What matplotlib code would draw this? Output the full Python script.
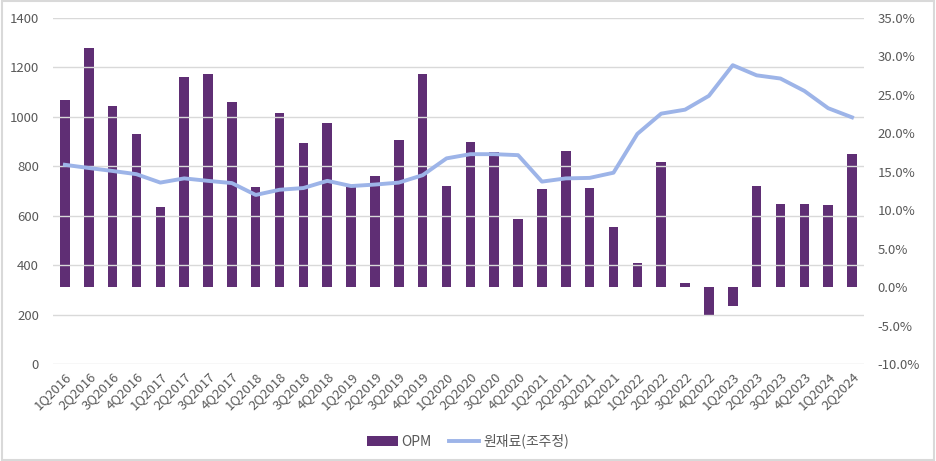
import matplotlib.pyplot as plt
from matplotlib.patches import Rectangle
from matplotlib.ticker import FuncFormatter

plt.rcParams['font.family'] = ['Noto Sans CJK KR', 'DejaVu Sans']

# quarters 1Q2016 ~ 2Q2024
quarters = []
for yr in range(2016, 2025):
    for q in range(1, 5):
        quarters.append(f"{q}Q{yr}")
quarters = quarters[:34]

# OPM (%) - right axis
opm = [24.3, 31.1, 23.6, 19.9, 10.4, 27.3, 27.7, 24.1, 13.0, 22.6, 18.8, 21.4,
       13.0, 14.5, 19.1, 27.7, 13.2, 18.9, 17.6, 8.9, 12.7, 17.7, 12.9, 7.8,
       3.1, 16.3, 0.5, -3.8, -2.4, 13.1, 10.8, 10.8, 10.7, 17.3]

# 원재료(조주정) - left axis
raw = [806, 793, 781, 768, 734, 751, 741, 732, 684, 705, 712, 741,
       720, 726, 734, 764, 832, 849, 849, 845, 738, 751, 753, 774,
       931, 1013, 1029, 1085, 1209, 1168, 1155, 1105, 1035, 998]

bar_color = '#5F2E74'
line_color = '#9DB4E8'
text_color = '#595959'

fig = plt.figure(figsize=(9.36, 4.61), dpi=100)
ax = fig.add_axes([0.0566, 0.2104, 0.8664, 0.7506])
ax2 = ax.twinx()

x = list(range(len(quarters)))
ax2.bar(x, opm, width=0.4, color=bar_color, label='OPM')
ax.plot(x, raw, color=line_color, linewidth=2.8, label='원재료(조주정)')

ax.set_zorder(ax2.zorder + 1)
ax.patch.set_visible(False)

ax.set_xlim(-0.5, len(quarters) - 0.5)
ax.set_ylim(0, 1400)
ax.set_yticks(range(0, 1401, 200))
ax2.set_ylim(-10, 35)
ax2.set_yticks(range(-10, 36, 5))
ax2.yaxis.set_major_formatter(FuncFormatter(lambda v, p: f"{v:.1f}%"))

ax.grid(axis='y', color='#D9D9D9', linewidth=1)
ax.set_axisbelow(True)
ax2.grid(False)

for a in (ax, ax2):
    for s in a.spines.values():
        s.set_visible(False)
    a.tick_params(length=0, colors=text_color, labelsize=9.5)

ax.set_xticks(x)
ax.set_xticklabels(quarters, rotation=45, ha='right', rotation_mode='anchor')
ax.tick_params(axis='x', pad=4)
ax.tick_params(axis='y', pad=10)
ax2.tick_params(axis='y', pad=10)

h1, l1 = ax2.get_legend_handles_labels()
h2, l2 = ax.get_legend_handles_labels()
fig.legend(h1 + h2, l1 + l2, loc='lower center', bbox_to_anchor=(0.5, 0.0),
           ncol=2, frameon=False, fontsize=10, labelcolor=text_color,
           handlelength=2.2, handletextpad=0.3, columnspacing=1.2)

fig.patches.append(Rectangle((0.002, 0.003), 0.996, 0.994, transform=fig.transFigure,
                             fill=False, edgecolor='#D9D9D9', linewidth=1.5))

fig.savefig('out.png', dpi=100)
